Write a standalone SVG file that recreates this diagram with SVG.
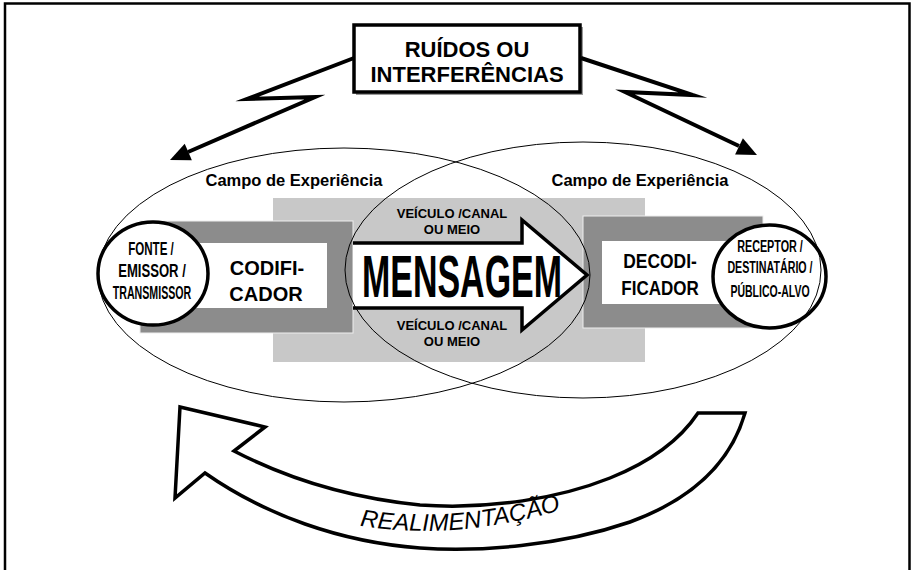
<svg xmlns="http://www.w3.org/2000/svg" width="912" height="570" viewBox="0 0 912 570">
<defs>
<style>
.b{font-family:"Liberation Sans",Arial,sans-serif;font-weight:bold;fill:#000}
.thin{fill:none;stroke:#000;stroke-width:1}
.bolt{fill:none;stroke:#000;stroke-width:4;stroke-linejoin:miter;stroke-miterlimit:10}
.dk{fill:#8c8c8c;stroke:#eee;stroke-width:1}
.circ{fill:#fff;stroke:#000;stroke-width:3.5}
</style>
</defs>
<rect x="0" y="0" width="912" height="570" fill="#fff"/>
<path d="M5,580 V3.5 H909.5 V580" fill="none" stroke="#000" stroke-width="2.5"/>

<g id="channel-bg">
<rect x="273" y="198" width="372" height="164" fill="#c8c8c8"/>
</g>

<g id="codificador">
<rect x="140" y="221" width="213" height="112" class="dk"/>
<rect x="170" y="243" width="157" height="65" fill="#fff"/>
<text class="b" font-size="20" text-anchor="middle" x="267" y="275">CODIFI-</text>
<text class="b" font-size="20" text-anchor="middle" x="266" y="301">CADOR</text>
</g>

<g id="decodificador">
<rect x="583" y="216" width="180" height="112" class="dk"/>
<rect x="602" y="241" width="130" height="63" fill="#fff"/>
<text class="b" font-size="21" text-anchor="middle" transform="translate(660,268) scale(0.83,1)">DECODI-</text>
<text class="b" font-size="21" text-anchor="middle" transform="translate(660,295) scale(0.81,1)">FICADOR</text>
</g>

<g id="mensagem">
<path d="M353,243 H522 V220 L587,275 L522,330 V308 H353" fill="#fff" stroke="#000" stroke-width="3.5" stroke-linejoin="miter"/>
<text class="b" font-size="60" text-anchor="middle" transform="translate(462,297) scale(0.566,1)">MENSAGEM</text>
<text class="b" font-size="13" text-anchor="middle" x="452" y="218">VEÍCULO /CANAL</text>
<text class="b" font-size="13" text-anchor="middle" x="452" y="234">OU MEIO</text>
<text class="b" font-size="13" text-anchor="middle" x="452" y="330">VEÍCULO /CANAL</text>
<text class="b" font-size="13" text-anchor="middle" x="452" y="346">OU MEIO</text>
</g>

<g id="fonte">
<ellipse cx="153" cy="273.5" rx="55" ry="51.5" class="circ"/>
<text class="b" font-size="19" text-anchor="middle" transform="translate(151,255) scale(0.61,1)">FONTE /</text>
<text class="b" font-size="19" text-anchor="middle" transform="translate(152,277) scale(0.69,1)">EMISSOR /</text>
<text class="b" font-size="19" text-anchor="middle" transform="translate(152,299) scale(0.56,1)">TRANSMISSOR</text>
</g>

<g id="receptor">
<ellipse cx="769.5" cy="276.5" rx="56.5" ry="51.5" class="circ"/>
<text class="b" font-size="17" text-anchor="middle" transform="translate(770,252) scale(0.635,1)">RECEPTOR /</text>
<text class="b" font-size="17" text-anchor="middle" transform="translate(770,273) scale(0.628,1)">DESTINATÁRIO /</text>
<text class="b" font-size="17" text-anchor="middle" transform="translate(770,297) scale(0.618,1)">PÚBLICO-ALVO</text>
</g>

<g id="campo-esq">
<ellipse cx="344" cy="275" rx="246" ry="127" class="thin"/>
<text class="b" font-size="16.5" text-anchor="middle" x="294" y="186">Campo de Experiência</text>
</g>

<g id="campo-dir">
<ellipse cx="583" cy="270" rx="238" ry="128" class="thin"/>
<text class="b" font-size="16.5" text-anchor="middle" x="640" y="186">Campo de Experiência</text>
</g>

<g id="ruidos">
<rect x="356" y="27" width="227" height="68" fill="#999"/>
<rect x="354" y="25" width="226" height="67" fill="#fff" stroke="#000" stroke-width="3.5"/>
<text class="b" font-size="22" text-anchor="middle" x="467" y="57">RUÍDOS OU</text>
<text class="b" font-size="22" text-anchor="middle" x="467" y="82">INTERFERÊNCIAS</text>
</g>

<g id="realimentacao">
<path d="M180,407 L265,427 L234,451 C290,480 350,498 420,505 C490,510 560,498 610,478 C650,462 680,440 698,413 L745,413 C730,465 690,500 630,522 C560,546 480,552 420,548 C340,542 265,515 205,473 L175,498 Z" fill="#fff" stroke="#000" stroke-width="3.5" stroke-linejoin="miter"/>
<path id="tp" d="M300,510 Q440,560 620,490" fill="none"/>
<text font-family="'Liberation Sans',Arial,sans-serif" font-size="24" font-style="italic" fill="#000"><textPath href="#tp" startOffset="50%" text-anchor="middle">REALIMENTAÇÃO</textPath></text>
</g>

<g id="connectors">
<polyline class="bolt" points="354,58 247,99 315,97 188,152"/>
<polygon points="170,160 191.9,160.3 184.7,143.7" fill="#000"/>
<polyline class="bolt" points="581,58 693,95 625,92 739,146"/>
<polygon points="757,155 735.1,154.5 742.9,138.3" fill="#000"/>
</g>
</svg>
